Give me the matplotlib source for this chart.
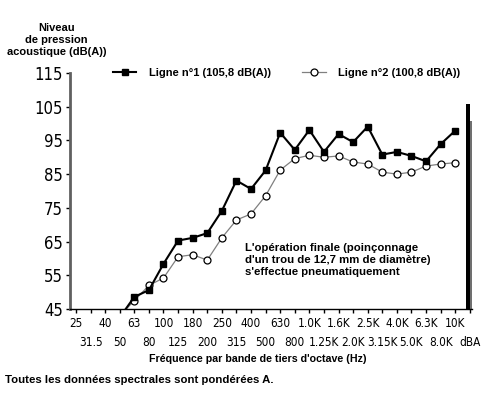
#coding=utf-8
# spectre par bande de tiers d'octave, deux lignes + niveau global dBA
import numpy as np
import matplotlib
matplotlib.use('Agg')
import matplotlib.pyplot as plt

nan = np.nan
bands = ['25', '31.5', '40', '50', '63', '80', '100', '125', '180', '200', '250', '315',
         '400', '500', '630', '800', '1.0K', '1.25K', '1.6K', '2.0K', '2.5K', '3.15K',
         '4.0K', '5.0K', '6.3K', '8.0K', '10K', 'dBA']
ligne1 = [nan, nan, nan, 42.5, 48.6, 50.6, 58.4, 65.3, 66.1, 67.5, 74.1, 83.1, 80.6, 86.1,
          97.3, 92.2, 98.1, 91.6, 96.9, 94.5, 99.1, 90.8, 91.6, 90.4, 88.8, 93.9, 97.9]
ligne2 = [nan, nan, nan, 43.0, 47.5, 52.0, 54.2, 60.5, 61.1, 59.5, 66.1, 71.4, 73.2, 78.6,
          86.2, 89.6, 90.6, 90.0, 90.4, 88.6, 88.0, 85.6, 85.0, 85.6, 87.4, 88.0, 88.4]
global_dba = [105.8, 100.8]
labels = ['Ligne n°1 (105,8 dB(A))', 'Ligne n°2 (100,8 dB(A))']
yticks = [45, 55, 65, 75, 85, 95, 105, 115]

txt_font = ['Liberation Sans', 'DejaVu Sans']

W, H = 489, 396
fig = plt.figure(figsize=(W/100, H/100), dpi=100)
ax = fig.add_axes([70/W, 1-309/H, 402/W, 236/H])

x = np.arange(len(ligne1))
l1, = ax.plot(x, ligne1, color='black', lw=1.5, marker='s', ms=4.5, zorder=4)
l2, = ax.plot(x, ligne2, color='#808080', lw=0.9, marker='o', ms=5, mfc='white', mec='black',
              mew=0.9, zorder=3)

# barres du niveau global (dBA)
i_dba = len(bands)-1
ax.bar(i_dba, global_dba[0]-45, bottom=45, width=-0.27, align='edge', color='black')
ax.bar(i_dba, global_dba[1]-45, bottom=45, width=0.2, align='edge', color='#707070')

ax.set_xlim(-0.41, 27.15)
ax.set_ylim(45, 115)

ax.spines['top'].set_visible(False)
ax.spines['right'].set_visible(False)
ax.spines['left'].set_color('#606060')
ax.spines['left'].set_linewidth(2)
ax.spines['bottom'].set_linewidth(1)

ax.set_yticks(yticks)
ax.set_yticklabels([str(v) for v in yticks], family='DejaVu Sans', fontstretch='condensed',
                   fontsize=12)
ax.tick_params(axis='y', length=3, width=1, pad=2)

# etiquettes alternees sur deux rangees (pad plus grand pour les impairs)
ax.set_xticks(range(len(bands)))
ax.set_xticklabels(bands, family='DejaVu Sans', fontstretch='condensed', fontsize=8.5)
ax.tick_params(axis='x', length=3, width=1, pad=3)
for i, t in enumerate(ax.xaxis.get_major_ticks()):
    if i % 2 == 1:
        t.set_pad(16.5)
ax.set_xticks([i_dba], minor=True)
ax.tick_params(axis='x', which='minor', length=26, width=1, color='#606060')

fig.legend([l1, l2], labels, loc='center left', bbox_to_anchor=(113/W, 1-73/H), ncol=2,
           frameon=False, handlelength=2.1, handletextpad=1.1, columnspacing=2.85,
           borderpad=0, borderaxespad=0,
           prop={'family': txt_font, 'weight': 'bold', 'size': 8})

fig.text(56.5/W, 1-40/H, 'Niveau\nde pression\nacoustique (dB(A))', ha='center', va='center',
         family=txt_font, fontweight='bold', fontsize=8, linespacing=1.25)
fig.text(245/W, 1-260/H, "L'opération finale (poinçonnage\nd'un trou de 12,7 mm de diamètre)\n"
         "s'effectue pneumatiquement", ha='left', va='center', family=txt_font,
         fontweight='bold', fontsize=8.2, linespacing=1.3)
fig.text(258/W, 1-359/H, "Fréquence par bande de tiers d'octave (Hz)", ha='center',
         va='center', family=txt_font, fontweight='bold', fontsize=7.7)
fig.text(5/W, 1-380/H, 'Toutes les données spectrales sont pondérées A.', ha='left',
         va='center', family=txt_font, fontweight='bold', fontsize=8.2)

fig.savefig('out.png', dpi=100)
